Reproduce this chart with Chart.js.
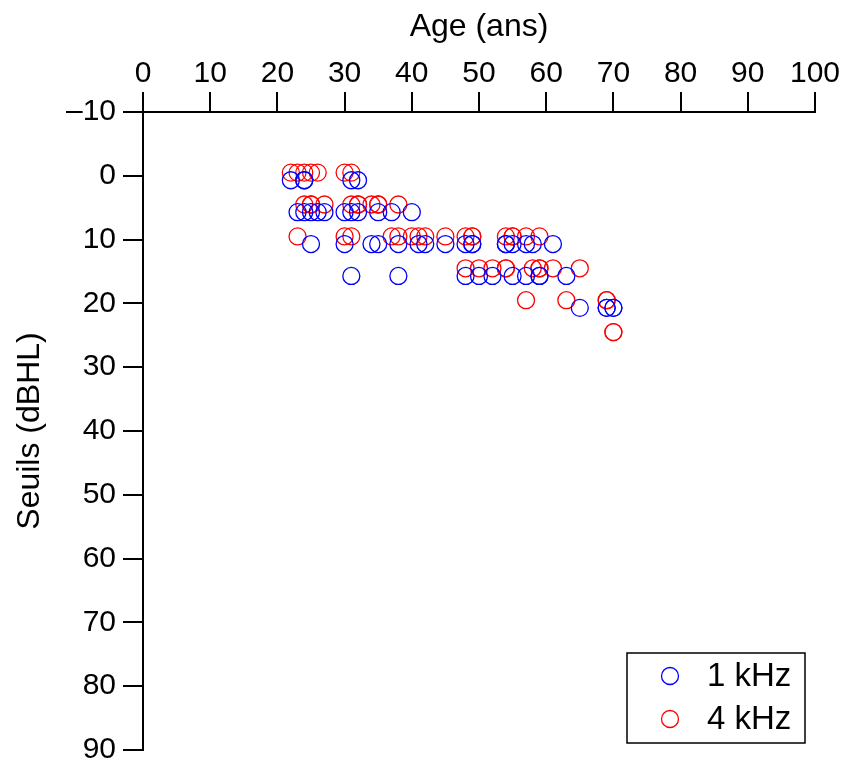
<!DOCTYPE html>
<html>
<head>
<meta charset="utf-8">
<script src="https://cdn.jsdelivr.net/npm/chart.js@4/dist/chart.umd.min.js"></script>
<style>
  html, body { margin: 0; padding: 0; background: #fff; }
  #wrap { width: 848px; height: 768px; }
</style>
</head>
<body>
<div id="wrap"><canvas id="scatter" width="848" height="768"></canvas></div>
<script>
// threshold levels (dBHL) as plotted, one per row of points
const levels1k = [0.7, 5.7, 10.7, 15.7, 20.7];
const levels4k = [-0.5, 4.5, 9.5, 14.5, 19.5, 24.5];

// ages (years) of the points on each row
const ages1k = [
  [22, 24, 24, 31, 32],
  [23, 24, 25, 26, 27, 30, 31, 32, 35, 37, 40],
  [25, 30, 34, 35, 38, 41, 42, 45, 48, 49, 49, 54, 54, 55, 57, 58, 61],
  [31, 38, 48, 50, 52, 55, 57, 59, 59, 63],
  [65, 69, 69, 70, 70],
];
const ages4k = [
  [22, 23, 24, 25, 26, 30, 31],
  [24, 25, 25, 27, 31, 32, 32, 34, 35, 35, 38],
  [23, 30, 31, 37, 38, 40, 41, 42, 45, 48, 49, 49, 54, 55, 55, 57, 59],
  [48, 50, 52, 54, 54, 58, 59, 59, 61, 65],
  [57, 63, 69, 69],
  [70, 70],
];

const xTicks = [0, 10, 20, 30, 40, 50, 60, 70, 80, 90, 100];
const yTicks = [-10, 0, 10, 20, 30, 40, 50, 60, 70, 80, 90];
const seriesNames = ["1 kHz", "4 kHz"];
const seriesColors = ["rgb(0,0,255)", "rgb(255,0,0)"];

const FONT = "'Liberation Sans', Arial, Helvetica, sans-serif";

function toPoints(levels, ages) {
  const pts = [];
  levels.forEach((lv, i) => ages[i].forEach(a => pts.push({ x: a, y: lv })));
  return pts;
}

// legend box drawn inside the plot, bottom right
const boxLegend = {
  id: "boxLegend",
  afterDraw(chart) {
    const ctx = chart.ctx;
    const a = chart.chartArea;
    const w = 178, h = 90;
    const x0 = a.right - 10 - w, y0 = a.bottom - 7 - h;
    ctx.save();
    ctx.fillStyle = "#fff";
    ctx.fillRect(x0, y0, w, h);
    ctx.strokeStyle = "#000";
    ctx.lineWidth = 1.5;
    ctx.strokeRect(x0, y0, w, h);
    ctx.font = "33px " + FONT;
    ctx.textBaseline = "middle";
    ctx.textAlign = "left";
    seriesNames.forEach((name, i) => {
      const cy = y0 + 23 + i * 43;
      ctx.beginPath();
      ctx.arc(x0 + 43, cy, 8.5, 0, Math.PI * 2);
      ctx.strokeStyle = seriesColors[i];
      ctx.lineWidth = 1.3;
      ctx.stroke();
      ctx.fillStyle = "#000";
      ctx.fillText(name, x0 + 80, cy + 1);
    });
    ctx.restore();
  }
};

const ctx = document.getElementById("scatter").getContext("2d");
new Chart(ctx, {
  type: "scatter",
  data: {
    datasets: [
      {
        label: seriesNames[0],
        data: toPoints(levels1k, ages1k),
        borderColor: seriesColors[0],
        backgroundColor: "rgba(0,0,0,0)",
        pointRadius: 8.5,
        pointBorderWidth: 1.3,
        pointHoverRadius: 8.5,
      },
      {
        label: seriesNames[1],
        data: toPoints(levels4k, ages4k),
        borderColor: seriesColors[1],
        backgroundColor: "rgba(0,0,0,0)",
        pointRadius: 8.5,
        pointBorderWidth: 1.3,
        pointHoverRadius: 8.5,
      },
    ],
  },
  options: {
    responsive: false,
    animation: false,
    events: [],
    layout: { padding: { left: 0, top: 0, right: 33, bottom: 18 } },
    plugins: {
      legend: { display: false },
      tooltip: { enabled: false },
    },
    scales: {
      x: {
        type: "linear",
        position: "top",
        min: 0,
        max: 100,
        afterBuildTicks: s => { s.ticks = xTicks.map(v => ({ value: v })); },
        afterFit: s => { s.height = 112; s.paddingLeft = 0; s.paddingRight = 0; },
        ticks: {
          color: "#000",
          font: { family: FONT, size: 30 },
          padding: 0,
          maxRotation: 0,
        },
        grid: {
          drawOnChartArea: false,
          drawTicks: true,
          tickLength: 20,
          color: "#000",
          lineWidth: 2,
        },
        border: { display: true, color: "#000", width: 2 },
        title: {
          display: true,
          text: "Age (ans)",
          color: "#000",
          font: { family: FONT, size: 32 },
          padding: { top: 8, bottom: 0 },
        },
      },
      y: {
        type: "linear",
        reverse: true,
        min: -10,
        max: 90,
        afterBuildTicks: s => { s.ticks = yTicks.map(v => ({ value: v })); },
        afterFit: s => { s.width = 143; s.paddingTop = 0; s.paddingBottom = 0; },
        ticks: {
          color: "#000",
          font: { family: FONT, size: 30 },
          padding: 7,
          callback: v => (v < 0 ? "\u2013" + Math.abs(v) : String(v)),
        },
        grid: {
          drawOnChartArea: false,
          drawTicks: true,
          tickLength: 20,
          color: "#000",
          lineWidth: 2,
        },
        border: { display: true, color: "#000", width: 2 },
        title: {
          display: true,
          text: "Seuils (dBHL)",
          color: "#000",
          font: { family: FONT, size: 32 },
          padding: { top: 11, bottom: 0 },
        },
      },
    },
  },
  plugins: [boxLegend],
});
</script>
</body>
</html>
